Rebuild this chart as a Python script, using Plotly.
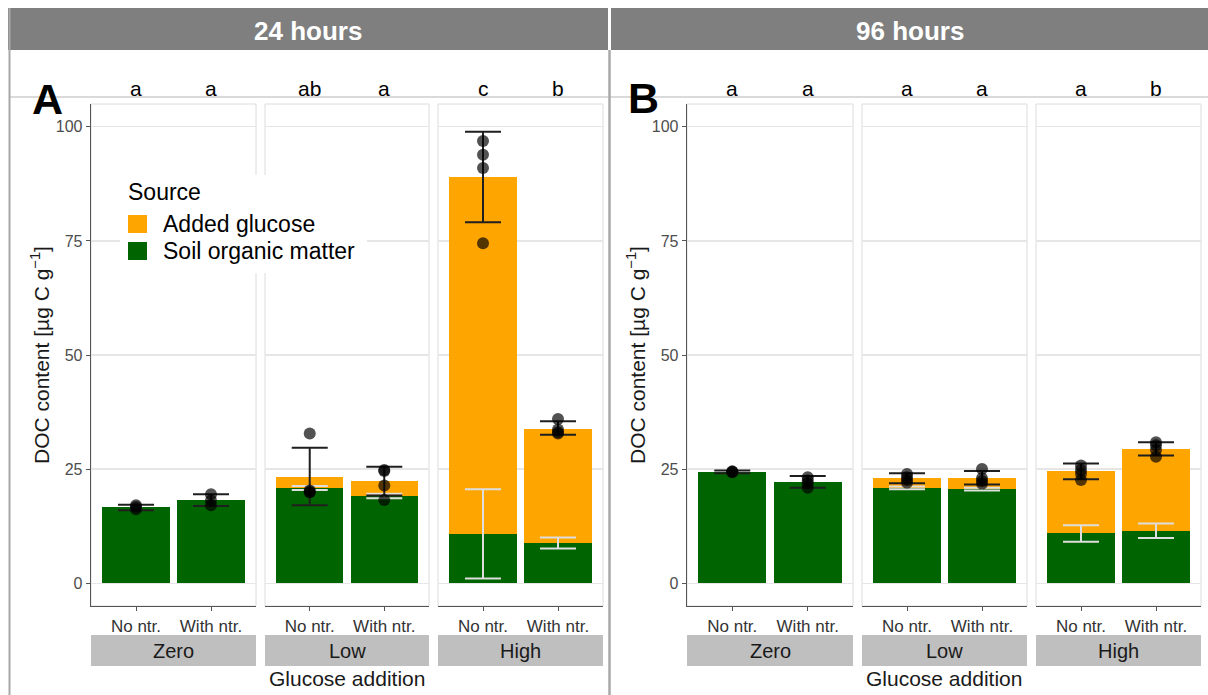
import plotly.graph_objects as go

W, H = 1208, 695
FONT = "Liberation Sans, Arial, Helvetica, sans-serif"

# ---------------- data ----------------
nitrogen = ["No ntr.", "With ntr."]
glucose_levels = ["Zero", "Low", "High"]
times = ["24 hours", "96 hours"]
panel_tags = ["A", "B"]
sources = ["Added glucose", "Soil organic matter"]

# order: Zero/No, Zero/With, Low/No, Low/With, High/No, High/With
som_mean_24 = [16.6, 18.2, 20.9, 19.1, 10.7, 8.75]
total_mean_24 = [16.6, 18.2, 23.3, 22.3, 89.0, 33.8]
total_hi_24 = [17.2, 19.5, 29.7, 25.5, 98.9, 35.5]
total_lo_24 = [16.0, 16.9, 17.1, 19.2, 79.1, 32.5]
som_hi_24 = [None, None, 21.3, 19.6, 20.6, 10.0]
som_lo_24 = [None, None, 20.4, 18.6, 1.0, 7.6]
points_24 = [
    [17.1, 16.7, 16.2],
    [19.5, 18.1, 17.1],
    [32.8, 20.3, 20.0, 19.9],
    [24.8, 24.6, 21.4, 18.2],
    [96.9, 93.9, 91.0, 74.5],
    [36.0, 33.7, 33.1, 32.8],
]
letters_24 = ["a", "a", "ab", "a", "c", "b"]

som_mean_96 = [24.4, 22.2, 20.9, 20.6, 10.9, 11.4]
total_mean_96 = [24.4, 22.2, 23.0, 23.1, 24.5, 29.45]
total_hi_96 = [24.7, 23.5, 24.1, 24.6, 26.2, 30.9]
total_lo_96 = [24.1, 20.9, 21.9, 21.6, 22.8, 28.0]
som_hi_96 = [None, None, 21.2, 20.9, 12.7, 13.1]
som_lo_96 = [None, None, 20.6, 20.3, 9.1, 9.9]
points_96 = [
    [24.5, 24.4, 24.3],
    [23.2, 22.5, 21.9, 20.9],
    [23.9, 23.2, 22.6, 22.0],
    [25.0, 23.0, 22.4, 21.8],
    [25.8, 24.8, 24.0, 22.6],
    [30.9, 30.2, 29.2, 27.7],
]
letters_96 = ["a", "a", "a", "a", "a", "b"]

y_ticks = [0, 25, 50, 75, 100]

data_sets = [
    dict(som=som_mean_24, tot=total_mean_24, thi=total_hi_24, tlo=total_lo_24,
         shi=som_hi_24, slo=som_lo_24, pts=points_24, let=letters_24),
    dict(som=som_mean_96, tot=total_mean_96, thi=total_hi_96, tlo=total_lo_96,
         shi=som_hi_96, slo=som_lo_96, pts=points_96, let=letters_96),
]

# ---------------- style / layout ----------------
GLU_COLOR = "#FFA500"
SOM_COLOR = "#006400"
GRID = "#e6e6e6"
AXLINE = "#555555"

facet_px = [
    [(91, 256), (265, 429), (438, 603)],
    [(687, 853), (862, 1027), (1036, 1201)],
]
panel_top, panel_bot = 104, 606


def px(x):
    return x / W


def py(y):
    return 1 - y / H


fig = go.Figure()
layout = dict(shapes=[], annotations=[])

for p in range(2):
    d = data_sets[p]
    for f in range(3):
        k = p * 3 + f + 1
        xn = "x" if k == 1 else f"x{k}"
        yn = "y" if k == 1 else f"y{k}"
        xk = "xaxis" if k == 1 else f"xaxis{k}"
        yk = "yaxis" if k == 1 else f"yaxis{k}"
        i0, i1 = 2 * f, 2 * f + 2
        som = d["som"][i0:i1]
        tot = d["tot"][i0:i1]
        glu = [t - s for t, s in zip(tot, som)]

        fig.add_trace(go.Bar(x=nitrogen, y=som, width=0.9, marker_color=SOM_COLOR,
                             marker_line_width=0, xaxis=xn, yaxis=yn,
                             showlegend=False, hoverinfo="skip"))
        fig.add_trace(go.Bar(x=nitrogen, y=glu, width=0.9, marker_color=GLU_COLOR,
                             marker_line_width=0, xaxis=xn, yaxis=yn,
                             showlegend=False, hoverinfo="skip"))

        # SOM error bars (light)
        sx, sy, sup, sdn = [], [], [], []
        for j in range(2):
            hi, lo = d["shi"][i0 + j], d["slo"][i0 + j]
            if hi is not None:
                sx.append(nitrogen[j])
                sy.append(som[j])
                sup.append(hi - som[j])
                sdn.append(som[j] - lo)
        if sx:
            fig.add_trace(go.Scatter(
                x=sx, y=sy, mode="markers", marker=dict(size=1, color="rgba(0,0,0,0)"),
                error_y=dict(type="data", symmetric=False, array=sup, arrayminus=sdn,
                             color="#dedede", thickness=2, width=18),
                xaxis=xn, yaxis=yn, showlegend=False, hoverinfo="skip"))

        # total error bars (dark)
        tup = [h - t for h, t in zip(d["thi"][i0:i1], tot)]
        tdn = [t - l for t, l in zip(tot, d["tlo"][i0:i1])]
        fig.add_trace(go.Scatter(
            x=nitrogen, y=tot, mode="markers", marker=dict(size=1, color="rgba(0,0,0,0)"),
            error_y=dict(type="data", symmetric=False, array=tup, arrayminus=tdn,
                         color="#1f1f1f", thickness=2, width=18),
            xaxis=xn, yaxis=yn, showlegend=False, hoverinfo="skip"))

        # individual points
        ptx, pty = [], []
        for j in range(2):
            for v in d["pts"][i0 + j]:
                ptx.append(nitrogen[j])
                pty.append(v)
        fig.add_trace(go.Scatter(
            x=ptx, y=pty, mode="markers",
            marker=dict(size=12, color="rgba(0,0,0,0.68)", line=dict(width=0)),
            xaxis=xn, yaxis=yn, showlegend=False, hoverinfo="skip"))

        x0, x1 = facet_px[p][f]
        layout[xk] = dict(
            domain=[px(x0), px(x1)], anchor=yn, type="category",
            categoryorder="array", categoryarray=nitrogen, range=[-0.6, 1.6],
            showgrid=False, zeroline=False, showline=True, linecolor=AXLINE,
            linewidth=1.3, ticks="outside", ticklen=4, tickcolor=AXLINE,
            tickfont=dict(size=17, color="#333333", family=FONT), fixedrange=True)
        first = f == 0
        layout[yk] = dict(
            domain=[py(panel_bot), py(panel_top)], anchor=xn, range=[-5, 105],
            tickvals=y_ticks, ticktext=[str(v) for v in y_ticks],
            showgrid=True, gridcolor=GRID, gridwidth=1.2, zeroline=False,
            showticklabels=first, ticks="outside" if first else "",
            ticklen=4, tickcolor=AXLINE, showline=first, linecolor=AXLINE,
            linewidth=1.3, tickfont=dict(size=16, color="#4d4d4d", family=FONT),
            fixedrange=True)

        # light panel border
        layout["shapes"].append(dict(
            type="rect", xref=f"{xn} domain", yref=f"{yn} domain",
            x0=0, x1=1, y0=0, y1=1, line=dict(color="#dcdcdc", width=1), layer="below"))
        # bottom strip
        layout["shapes"].append(dict(
            type="rect", xref=f"{xn} domain", yref="paper", x0=0, x1=1,
            y0=py(666), y1=py(635), fillcolor="#bfbfbf", line=dict(width=0)))
        layout["annotations"].append(dict(
            text=glucose_levels[f], xref=f"{xn} domain", yref="paper", x=0.5,
            y=py(650.5), showarrow=False, xanchor="center", yanchor="middle",
            font=dict(size=20, color="#1a1a1a", family=FONT)))
        # significance letters
        for j in range(2):
            layout["annotations"].append(dict(
                text=d["let"][i0 + j], xref=xn, yref="paper", x=nitrogen[j],
                y=py(88), showarrow=False, xanchor="center", yanchor="middle",
                font=dict(size=21, color="#000000", family=FONT)))

# panel-level decorations
strip_px = [(8, 608), (611, 1208)]
title_x = [40, 636]
xlab_x = [347, 944]
tag_px = [(47, 99), (644, 98)]
for p in range(2):
    a, b = strip_px[p]
    layout["shapes"].append(dict(
        type="rect", xref="paper", yref="paper", x0=px(a), x1=px(b),
        y0=py(50), y1=py(8), fillcolor="#7f7f7f", line=dict(width=0)))
    layout["annotations"].append(dict(
        text=f"<b>{times[p]}</b>", xref="paper", yref="paper", x=px((a + b) / 2),
        y=py(31), showarrow=False, xanchor="center", yanchor="middle",
        font=dict(size=26, color="white", family=FONT)))
    layout["annotations"].append(dict(
        text="DOC content [µg C g<sup>−1</sup>]", xref="paper", yref="paper",
        x=px(title_x[p]), y=py(355), textangle=-90, showarrow=False,
        xanchor="center", yanchor="middle",
        font=dict(size=21, color="#1a1a1a", family=FONT)))
    layout["annotations"].append(dict(
        text="Glucose addition", xref="paper", yref="paper", x=px(xlab_x[p]),
        y=py(678), showarrow=False, xanchor="center", yanchor="middle",
        font=dict(size=21, color="#1a1a1a", family=FONT)))
    layout["annotations"].append(dict(
        text=f"<b>{panel_tags[p]}</b>", xref="paper", yref="paper",
        x=px(tag_px[p][0]), y=py(tag_px[p][1]), showarrow=False,
        xanchor="center", yanchor="middle",
        font=dict(size=43, color="#000000", family=FONT)))

# frame lines
layout["shapes"] += [
    dict(type="line", xref="paper", yref="paper", x0=px(9), x1=px(1208),
         y0=py(97), y1=py(97), line=dict(color="#b5b5b5", width=1)),
    dict(type="line", xref="paper", yref="paper", x0=px(9.5), x1=px(9.5),
         y0=py(8), y1=py(695), line=dict(color="#a8a8a8", width=2)),
    dict(type="line", xref="paper", yref="paper", x0=px(609.5), x1=px(609.5),
         y0=py(50), y1=py(695), line=dict(color="#a8a8a8", width=2.5)),
]

# manual legend (inside panel A)
layout["shapes"].append(dict(
    type="rect", xref="paper", yref="paper", x0=px(120), x1=px(367),
    y0=py(273), y1=py(175), fillcolor="white", line=dict(width=0), layer="above"))
layout["annotations"].append(dict(
    text="Source", xref="paper", yref="paper", x=px(126), y=py(192),
    showarrow=False, xanchor="left", yanchor="middle",
    font=dict(size=23, color="#000000", family=FONT)))
legend_colors = [GLU_COLOR, SOM_COLOR]
legend_rows = [224, 251]
for s in range(2):
    yc = legend_rows[s]
    layout["shapes"].append(dict(
        type="rect", xref="paper", yref="paper", x0=px(128), x1=px(147),
        y0=py(yc + 9), y1=py(yc - 9), fillcolor=legend_colors[s],
        line=dict(width=0), layer="above"))
    layout["annotations"].append(dict(
        text=sources[s], xref="paper", yref="paper", x=px(161), y=py(yc),
        showarrow=False, xanchor="left", yanchor="middle",
        font=dict(size=23, color="#000000", family=FONT)))

fig.update_layout(
    width=W, height=H, margin=dict(l=0, r=0, t=0, b=0),
    paper_bgcolor="white", plot_bgcolor="white", barmode="stack",
    showlegend=False, font=dict(family=FONT), **layout)

fig.write_html(
    "out.html",
    config={"displayModeBar": False, "staticPlot": True},
    post_script="document.body.style.margin='0';document.body.style.overflow='hidden';")
